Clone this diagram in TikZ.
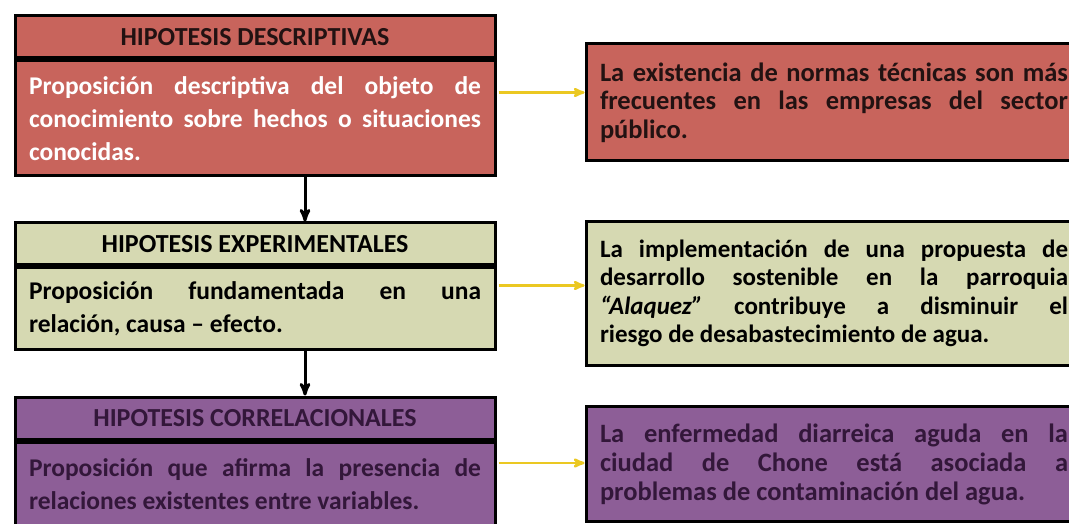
\documentclass[tikz,border=0pt]{standalone}
\usepackage{fontspec}
\setmainfont{Carlito}
\usetikzlibrary{arrows}
\usetikzlibrary{positioning}
\definecolor{rojo}{HTML}{C8645C}
\definecolor{oliva}{HTML}{D6D9B2}
\definecolor{morado}{HTML}{8D5E97}
\definecolor{amarillo}{HTML}{EBC822}
\definecolor{tinta}{HTML}{33173A}
\definecolor{oscuro}{HTML}{221212}
\tolerance=9999
\hyphenpenalty=10000
\tikzset{
  >=stealth',
  node distance = 0pt,
  head/.style = {draw, line width=3pt, rectangle, minimum width=480pt,
    minimum height=42pt, inner sep=0pt, font=\bfseries\fontsize{26}{33}\selectfont},
  body/.style = {draw, line width=3pt, rectangle, text width=452pt, inner xsep=14pt,
    inner ysep=0pt, align=justify, font=\bfseries\fontsize{25.5}{33}\selectfont},
  ejemplo/.style = {draw, line width=3pt, rectangle, text width=468pt, inner xsep=14pt,
    inner ysep=0pt, align=justify},
  flujo/.style = {->, line width=3pt, black},
  enlace/.style = {->, line width=2.5pt, amarillo, shorten <=2pt},
}

\begin{document}
\begin{tikzpicture}[x=1pt, y=1pt]
    \path [use as bounding box, clip] (0,0) rectangle (1069,523);
    % columna de tipos de hipotesis
    \node [head, fill=rojo, text=oscuro] (h1) at (255,486) {HIPOTESIS DESCRIPTIVAS};
    \node [body, fill=rojo, text=white, minimum height=115pt, below = 0pt of h1] (p1)
      {Proposición descriptiva del objeto de\linebreak conocimiento sobre hechos o situaciones\linebreak conocidas.};
    \node [head, fill=oliva, text=black, below = 44pt of p1] (h2) {HIPOTESIS EXPERIMENTALES};
    \node [body, fill=oliva, text=black, minimum height=81pt, below = 0pt of h2] (p2)
      {Proposición fundamentada en una\linebreak relación, causa – efecto.};
    \node [head, fill=morado, text=tinta, below = 45pt of p2] (h3) {HIPOTESIS CORRELACIONALES};
    \node [body, fill=morado, text=tinta, minimum height=84pt, below = 0pt of h3] (p3)
      {Proposición que afirma la presencia de\linebreak relaciones existentes entre variables.};
    % ejemplos
    \node [ejemplo, fill=rojo, text=oscuro, minimum height=117pt, right = 88pt of p1, yshift=16pt,
      font=\bfseries\fontsize{26.5}{28.5}\selectfont] (e1)
      {La existencia de normas técnicas son más\linebreak frecuentes en las empresas del sector\linebreak público.};
    \node [ejemplo, fill=oliva, text=black, minimum height=143pt, right = 88pt of p2, yshift=15pt,
      font=\bfseries\fontsize{25}{28.5}\selectfont] (e2)
      {La implementación de una propuesta de\linebreak desarrollo sostenible en la parroquia\linebreak \textit{“Alaquez”} contribuye a disminuir el\linebreak riesgo de desabastecimiento de agua.};
    \node [ejemplo, fill=morado, text=tinta, minimum height=115pt, right = 88pt of p3, yshift=20pt,
      font=\bfseries\fontsize{26.5}{29}\selectfont] (e3)
      {La enfermedad diarreica aguda en la\linebreak ciudad de Chone está asociada a\linebreak problemas de contaminación del agua.};
    \draw [flujo] ([xshift=50pt]p1.south) -- ([xshift=50pt]h2.north);
    \draw [flujo] ([xshift=50pt]p2.south) -- ([xshift=50pt]h3.north);
    \draw [enlace] ([yshift=26pt]p1.east) -- ([yshift=26pt]e1.west |- p1.east);
    \draw [enlace] ([yshift=23pt]p2.east) -- ([yshift=23pt]e2.west |- p2.east);
    \draw [enlace] ([yshift=21pt]p3.east) -- ([yshift=21pt]e3.west |- p3.east);
\end{tikzpicture}
\end{document}
